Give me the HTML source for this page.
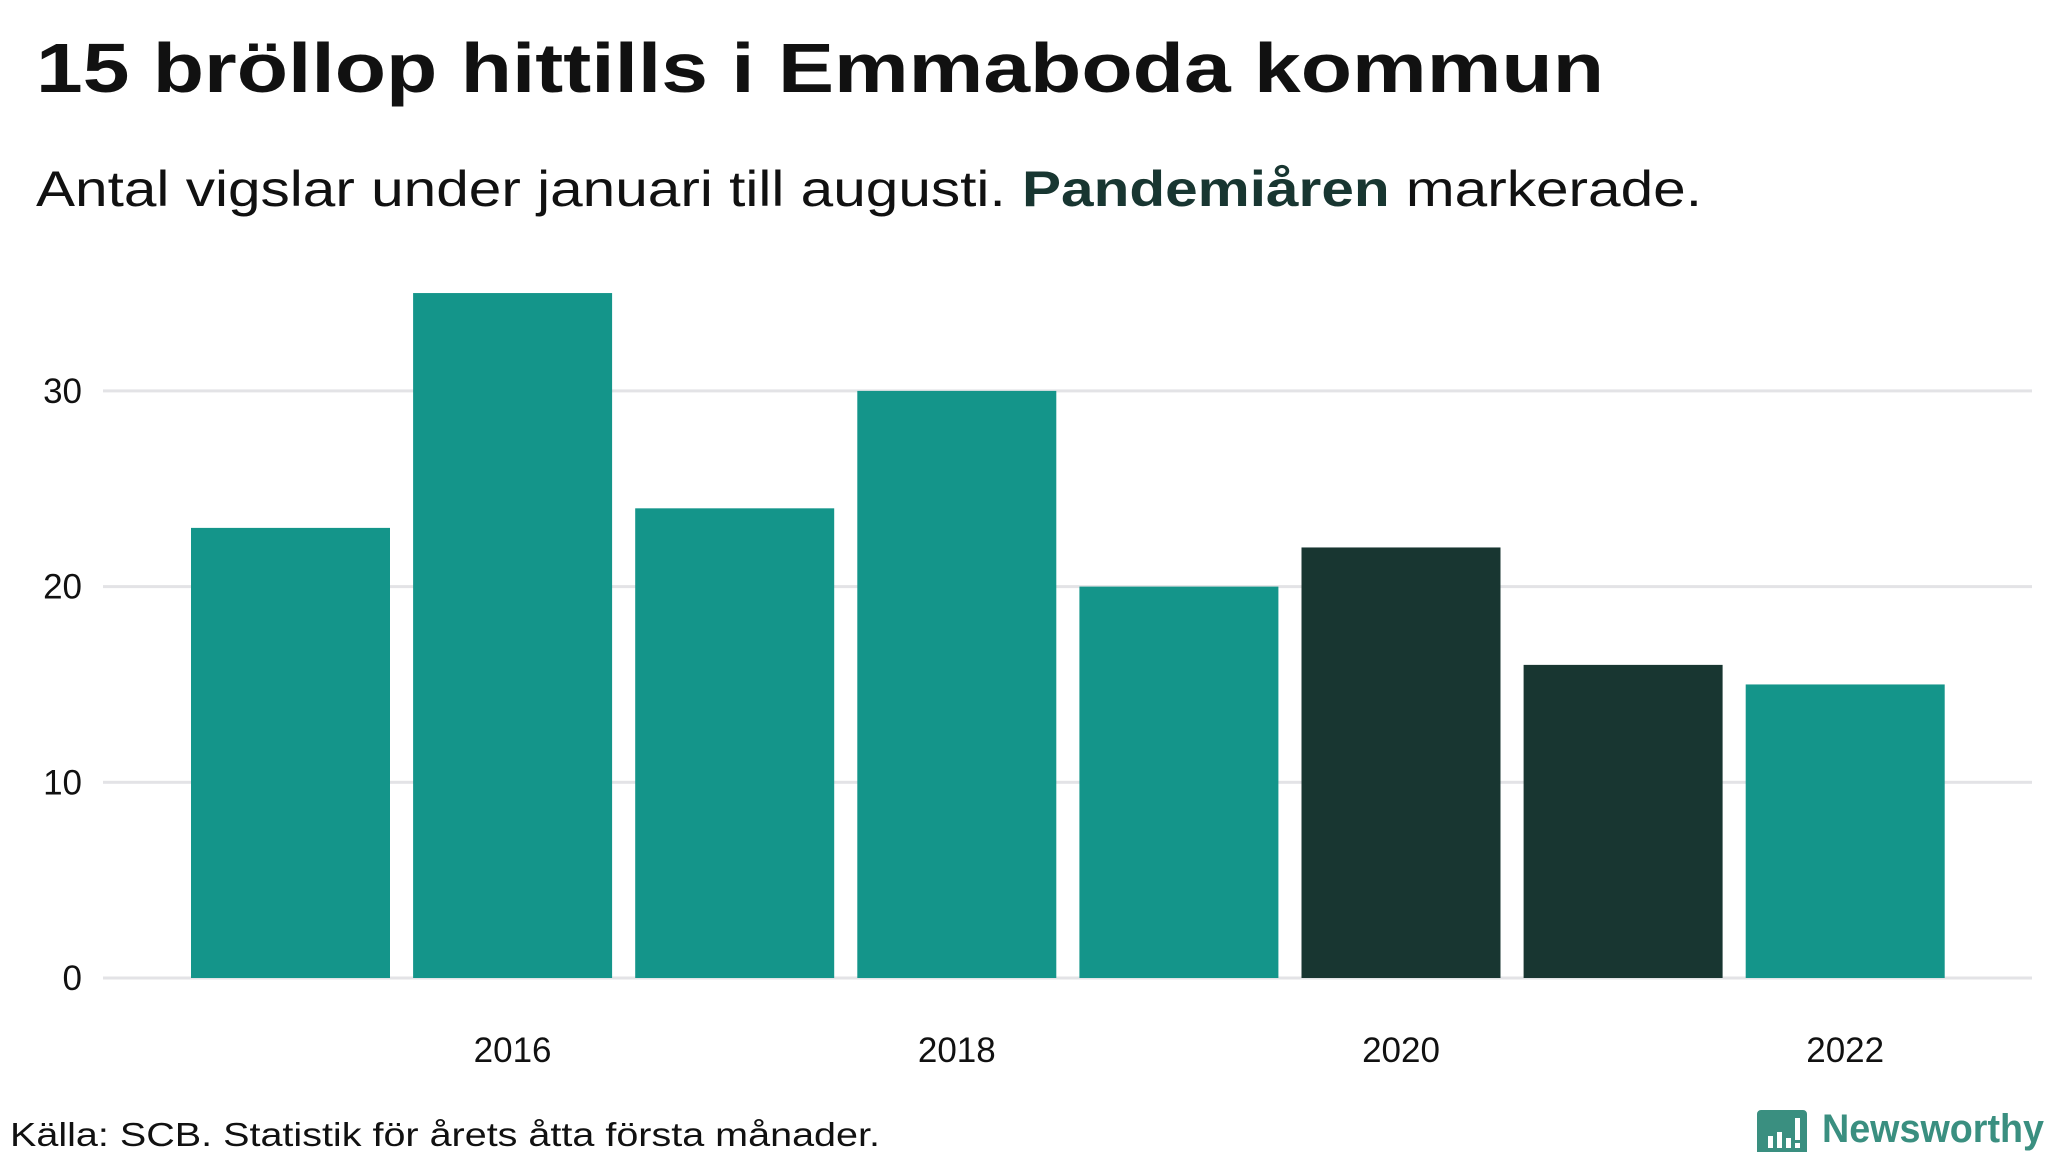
<!DOCTYPE html>
<html><head><meta charset="utf-8"><style>
html,body{margin:0;padding:0;background:#fff;}
svg{display:block;font-family:"Liberation Sans",sans-serif;}
</style></head><body>
<svg id="chart" width="2048" height="1152" viewBox="0 0 2048 1152" xmlns="http://www.w3.org/2000/svg">
<text x="36" y="92" font-size="70" font-weight="bold" fill="#111" textLength="1568" lengthAdjust="spacingAndGlyphs">15 bröllop hittills i Emmaboda kommun</text>
<text x="36" y="206" font-size="50" fill="#111" textLength="1666" lengthAdjust="spacingAndGlyphs">Antal vigslar under januari till augusti. <tspan font-weight="bold" fill="#183631">Pandemiåren</tspan> markerade.</text>
<g id="grid"></g>
<g id="bars"></g>
<g id="xlabels"></g>
<text x="10" y="1146" font-size="33" fill="#111" textLength="870" lengthAdjust="spacingAndGlyphs">Källa: SCB. Statistik för årets åtta första månader.</text>
<g>
<path d="M1761 1110 h42 a4 4 0 0 1 4 4 v38 a4 4 0 0 1 -4 4 h-14 l-7 9 l-7 -9 h-14 a4 4 0 0 1 -4 -4 v-38 a4 4 0 0 1 4 -4z" fill="#3a8f80"/>
<rect x="1768" y="1136" width="5" height="12" fill="#fff"/><rect x="1777" y="1132" width="5" height="16" fill="#fff"/><rect x="1786" y="1138" width="5" height="10" fill="#fff"/><rect x="1795" y="1118" width="5" height="22" fill="#fff"/><rect x="1795" y="1143" width="5" height="5" fill="#fff"/>
<text x="1822" y="1142" font-size="40" font-weight="bold" fill="#3a8f80" textLength="222" lengthAdjust="spacingAndGlyphs">Newsworthy</text>
</g>
</svg>
<script>
const years=[2015,2016,2017,2018,2019,2020,2021,2022];
const values=[23,35,24,30,20,22,16,15];
const pandemic=[false,false,false,false,false,true,true,false];
const yTicks=[0,10,20,30];
const xTickYears=[2016,2018,2020,2022];
const NS="http://www.w3.org/2000/svg";
const x0=191,pitch=222.1,bw=199,y0=978,unit=19.57;
function xPos(i){return x0+i*pitch;}
function yPos(v){return y0-v*unit;}
const grid=document.getElementById('grid');
yTicks.forEach(t=>{
  const l=document.createElementNS(NS,'rect');
  l.setAttribute('x',103);l.setAttribute('y',yPos(t)-1.5);l.setAttribute('width',1929);l.setAttribute('height',3);l.setAttribute('fill','#e3e3e6');
  
  
  grid.appendChild(l);
  const tx=document.createElementNS(NS,'text');
  tx.setAttribute('x',82);tx.setAttribute('y',yPos(t)+12);tx.setAttribute('text-anchor','end');tx.setAttribute('font-size','35');tx.setAttribute('fill','#111');
  tx.textContent=t;
  
  
  grid.appendChild(tx);
});
const bars=document.getElementById('bars');
values.forEach((v,i)=>{
  const r=document.createElementNS(NS,'rect');
  r.setAttribute('x',xPos(i));r.setAttribute('y',yPos(v));r.setAttribute('width',bw);r.setAttribute('height',y0-yPos(v));
  r.setAttribute('fill',pandemic[i]?'#183631':'#14958a');
  
  
  bars.appendChild(r);
});
const xl=document.getElementById('xlabels');
xTickYears.forEach(yr=>{
  const i=years.indexOf(yr);
  const t=document.createElementNS(NS,'text');
  t.setAttribute('x',xPos(i)+bw/2);t.setAttribute('y',1062);t.setAttribute('text-anchor','middle');t.setAttribute('font-size','35');t.setAttribute('fill','#111');
  t.textContent=yr;
  
  
  xl.appendChild(t);
});
</script>
</body></html>
